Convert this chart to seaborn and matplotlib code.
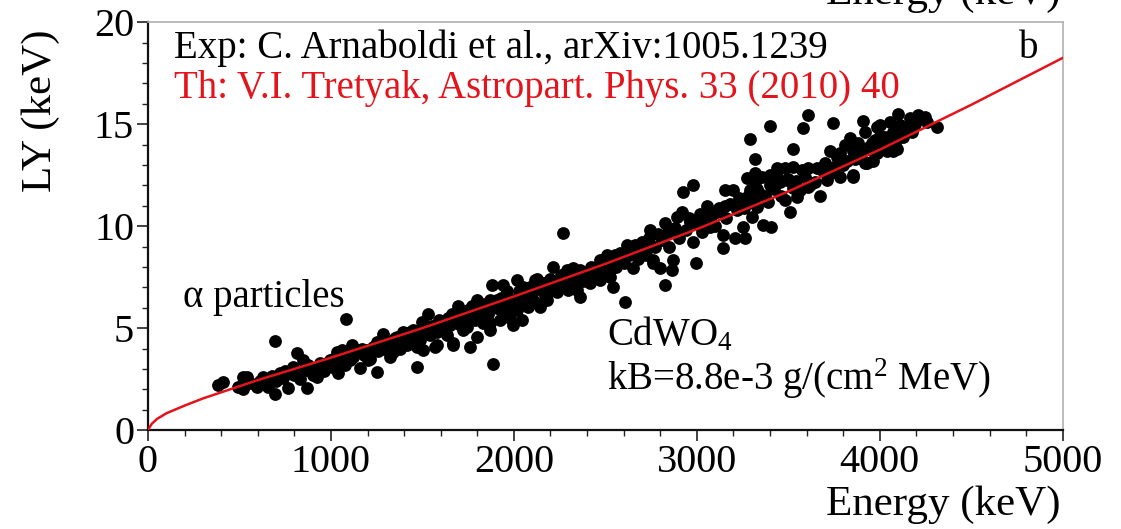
import matplotlib
matplotlib.use("Agg")
import matplotlib.pyplot as plt
from matplotlib.ticker import MultipleLocator
import seaborn as sns
import pandas as pd

# Measured alpha events in CdWO4: energy (keV) and light yield (keV)
energy = [
    383, 410, 492, 519, 541, 519, 596, 628, 656, 694, 694, 678, 721, 765, 738,
    792, 814, 831, 847, 869, 874, 902, 923, 951, 978, 1005, 1038, 1033, 1060,
    1082, 1076, 1115, 1142, 1158, 1202, 1251, 1230, 1284, 1306, 1339, 1377,
    1404, 1432, 1470, 1470, 1497, 1530, 1541, 1568,
    1393, 1448, 1033, 1197, 1268, 1339, 1415, 1486, 1541, 1579, 1634, 1667,
    1721, 1760, 1798, 1650, 1689, 1743, 1612, 1215, 1322, 1104, 995, 1503,
    1361, 1694, 1798, 1776,
    1885, 1579, 1667, 1798, 1743, 1880, 1940, 2016, 1869, 1923, 1869, 1978,
    2044, 2033, 2071, 2115, 2142, 2180, 2213, 2235, 2290, 2322, 2361, 2361,
    2295, 2415, 2470, 2508, 2541, 2563, 2607, 2617, 2650, 2689, 2727, 2760,
    2798, 2825, 2825, 2863, 2891, 2923, 2978, 2978, 2995, 2268,
    2126, 2552, 1776, 1852, 1907, 1940, 1978, 2016, 1995, 2077, 2126, 2180,
    2251, 2344, 2470, 2525, 2454, 2197, 2087, 1831, 2049,
    2552, 2661, 2705, 2743, 2760, 2869, 2918, 2962, 3016, 3055, 3071, 3109,
    3142, 3142, 3153, 3153, 3197, 3208, 3251, 3262, 3273, 3290, 3317, 3300,
    3399, 3607, 3579, 3743, 3907, 3290, 3525, 3836, 3918, 3984, 3880, 3956,
    3727, 3765, 3852, 3929, 3984, 3820, 3863, 3798, 3727, 3852, 3782, 3672,
    3710, 3656, 3607, 3574, 3525, 3481, 3437, 3399, 3355, 3317, 3344, 3399,
    3454, 3492, 3525, 3563, 3607, 3645, 3481, 3546, 3508, 3361, 3404, 3328,
    3290, 3317, 3388, 4093, 4098, 4208, 4246, 4311,
    4164, 4000, 4055, 4109, 4148, 4071, 4175, 4027, 3973, 4126, 4082, 4016,
    3962, 3907, 4071, 4038, 3918, 3962, 3891, 4235, 3852,
    1100, 1120, 1170, 1180, 1250, 1260, 1290, 1320, 1350, 1380, 1420, 1450,
    1480, 1520, 1550, 1590, 1600, 1620, 1640, 1660, 1700, 1710, 1730, 1750,
    1770, 1790, 1810, 1820, 1840, 1860, 1870, 1890, 1910, 1930, 1950, 1960,
    1990, 2000, 2030, 2060, 2090, 2100, 2130, 2160, 2170, 2200, 2210, 2240,
    2260, 2280, 2310, 2330, 2350, 2380, 2400, 2420, 2440, 2460, 2490, 2510,
    2530, 2560, 2580, 2600, 2630, 2660, 2680, 2700, 2720, 2740, 2770, 2790,
    2810, 2840, 2850, 2880, 2900, 2940, 2960, 3000, 3030, 3040, 3080, 3100,
    3120, 3160, 3180, 3220, 3230, 3260, 3280, 3310, 3330, 3370, 3420, 3440,
    3460, 3500, 3540, 3590, 3620, 3690, 3700, 3750, 3780, 3810, 3870, 3940,
    4000, 4050, 4120, 4190, 4260,
    560, 610, 700, 750, 800, 850, 890, 940, 960, 1010, 1050, 1080,
]
light_yield = [
    2.20, 2.35, 2.10, 2.60, 2.60, 2.00, 2.10, 2.60, 2.10, 1.76, 4.36, 2.65, 2.80, 2.06, 2.55,
    3.09, 3.78, 2.50, 3.43, 2.06, 3.19, 2.70, 2.60, 3.09, 3.28, 3.09, 2.80, 3.82, 3.92,
    5.44, 3.19, 4.17, 3.92, 3.04, 3.43, 2.84, 4.07, 4.70, 4.07, 3.82, 4.26,
    4.60, 4.80, 4.07, 3.09, 5.30, 5.69, 4.75, 4.07,
    4.80, 4.90, 3.04, 3.92, 4.26, 4.07, 4.17, 4.41, 4.66, 4.17, 4.66, 4.17,
    4.90, 4.07, 4.56, 5.15, 5.54, 5.30, 5.30, 3.50, 3.58, 3.43, 3.43, 3.92,
    4.56, 6.08, 6.37, 5.64,
    3.24, 4.80, 4.26, 6.27, 5.05, 7.11, 7.11, 7.35, 5.25, 5.39, 4.90, 5.78,
    5.39, 6.23, 6.52, 7.35, 6.03, 6.72, 7.99, 6.76, 7.84, 7.94, 7.84, 6.52,
    6.86, 7.20, 8.33, 8.58, 7.01, 8.33, 6.27, 9.07, 7.94, 8.97, 9.07, 8.33,
    7.94, 7.11, 10.15, 7.84, 10.44, 11.67, 12.00, 9.20, 8.19, 9.66,
    7.40, 8.58, 5.88, 6.03, 6.37, 5.64, 5.49, 5.88, 5.15, 6.03, 6.23, 6.37,
    7.01, 6.86, 7.35, 7.50, 7.84, 7.11, 6.62, 5.25, 7.01,
    8.33, 9.07, 8.82, 9.80, 8.19, 8.33, 10.70, 10.20, 10.60, 11.00, 9.95, 10.70,
    9.56, 8.92, 11.00, 11.76, 11.76, 9.41, 9.95, 9.41, 12.35, 11.17, 13.30, 10.44,
    14.90, 15.44, 14.80, 15.05, 15.15, 14.26, 13.80, 14.30, 14.60, 14.85, 14.10, 14.10,
    13.70, 13.40, 13.70, 13.10, 13.60, 13.20, 13.30, 13.00, 12.60, 12.50, 12.40, 11.50,
    12.25, 12.84, 12.84, 12.74, 12.90, 12.84, 12.84, 12.50, 12.40, 12.15, 11.60, 12.00,
    12.15, 12.25, 11.86, 11.76, 11.90, 12.15, 11.27, 11.42, 10.70, 10.05, 9.95, 10.93,
    11.76, 12.60, 11.17, 13.80, 15.50, 15.44, 15.34, 14.85,
    15.30, 14.95, 15.10, 14.95, 14.80, 14.60, 14.60, 14.36, 14.20, 14.36, 14.10, 14.05,
    13.70, 13.70, 13.70, 13.70, 13.10, 13.20, 13.35, 15.30, 12.40,
    3.80, 3.60, 4.00, 3.70, 4.30, 3.90, 4.00, 4.30, 4.50, 4.00, 4.40, 4.60,
    4.80, 5.00, 5.10, 5.40, 5.00, 4.90, 5.50, 5.70, 5.20, 5.80, 5.60, 5.90,
    6.10, 5.40, 5.80, 6.00, 6.20, 5.70, 6.40, 6.10, 6.00, 6.50, 6.20, 6.80,
    6.40, 6.10, 6.80, 6.30, 7.00, 6.50, 6.90, 7.20, 6.60, 7.40, 6.90, 7.30,
    7.60, 7.10, 7.40, 7.00, 7.60, 7.30, 7.70, 8.00, 7.50, 8.00, 7.70, 8.10,
    7.90, 8.00, 8.70, 8.20, 8.60, 8.70, 8.40, 9.20, 8.60, 9.40, 9.00, 9.60,
    9.30, 9.70, 9.00, 9.90, 9.40, 9.80, 10.40, 10.10, 9.70, 10.30, 10.50, 10.00,
    10.90, 10.40, 11.10, 10.80, 11.40, 10.90, 11.50, 11.30, 11.80, 11.50, 11.80, 12.40,
    11.50, 12.30, 12.20, 12.40, 12.00, 12.70, 13.10, 12.90, 13.60, 14.00, 13.90, 13.90,
    14.40, 14.20, 14.60, 15.00, 15.10,
    2.30, 2.40, 2.40, 2.90, 2.70, 2.90, 3.00, 3.30, 2.90, 3.50, 3.40, 3.60,
]

# Calculated light yield curve (Birks quenching, kB = 8.8e-3 g/(cm^2 MeV))
curve_energy = [0, 20, 50, 100, 200, 300, 400, 600, 800, 1000, 1500, 2000,
                2500, 3000, 3500, 4000, 4500, 5000]
curve_ly = [0.0, 0.30, 0.55, 0.82, 1.20, 1.55, 1.85, 2.45, 3.00, 3.55, 5.00,
            6.55, 8.15, 9.85, 11.70, 13.75, 15.95, 18.25]

x_ticks = [0, 1000, 2000, 3000, 4000, 5000]
y_ticks = [0, 5, 10, 15, 20]

points = pd.DataFrame({"Energy": energy, "LY": light_yield})
curve = pd.DataFrame({"Energy": curve_energy, "LY": curve_ly})

sns.set_style("white")
plt.rcParams["font.family"] = ["Liberation Serif", "DejaVu Serif"]
plt.rcParams["mathtext.fontset"] = "custom"
plt.rcParams["mathtext.rm"] = "Liberation Serif"
plt.rcParams["mathtext.it"] = "Liberation Serif:italic"
plt.rcParams["text.color"] = "black"
plt.rcParams["xtick.labelcolor"] = "black"
plt.rcParams["ytick.labelcolor"] = "black"

fig = plt.figure(figsize=(11.21, 5.29), dpi=100)
ax = fig.add_axes([0.132, 0.187, 0.816, 0.771])

sns.scatterplot(data=points, x="Energy", y="LY", ax=ax, color="black",
                s=85, linewidth=0, zorder=2, legend=False)
sns.lineplot(data=curve, x="Energy", y="LY", ax=ax, color="#e3141b",
             linewidth=1.8, zorder=3, legend=False)

ax.set_xlim(0, 5000)
ax.set_ylim(0, 20)
ax.set_xticks(x_ticks)
ax.set_yticks(y_ticks)
ax.xaxis.set_minor_locator(MultipleLocator(200))
ax.yaxis.set_minor_locator(MultipleLocator(1))
ax.tick_params(which="major", direction="out", length=8, width=1.2,
               labelsize=29, pad=2, bottom=True, left=True, color="#222222",
               labelcolor="black")
ax.tick_params(which="minor", direction="out", length=4, width=1.0,
               bottom=True, left=True, color="#222222")
ax.set_xlabel("")
ax.set_ylabel("")

for side in ("left", "bottom"):
    ax.spines[side].set_color("#111111")
    ax.spines[side].set_linewidth(1.6)
for side in ("top", "right"):
    ax.spines[side].set_color("#b0b0b0")
    ax.spines[side].set_linewidth(1.2)

ax.text(0.028, 0.936, "Exp: C. Arnaboldi et al., arXiv:1005.1239",
        transform=ax.transAxes, fontsize=28, color="black", va="center")
ax.text(0.028, 0.838, "Th: V.I. Tretyak, Astropart. Phys. 33 (2010) 40",
        transform=ax.transAxes, fontsize=28, color="#e3141b", va="center")
ax.text(0.952, 0.936, "b", transform=ax.transAxes, fontsize=28,
        color="black", va="center")
ax.text(0.038, 0.326, "\u03b1 particles", transform=ax.transAxes,
        fontsize=28, color="black", va="center")
ax.text(0.502, 0.233, r"CdWO$_4$", transform=ax.transAxes, fontsize=28,
        color="black", va="center")
ax.text(0.502, 0.127, r"kB=8.8e-3 g/(cm$^2$ MeV)", transform=ax.transAxes,
        fontsize=28, color="black", va="center")

fig.text(0.946, 0.045, "Energy (keV)", fontsize=31, ha="right",
         va="center", color="black")
fig.text(0.036, 0.945, "LY (keV)", fontsize=31, rotation=90, ha="center",
         va="top", color="black")
fig.text(0.946, 1.012, "Energy (keV)", fontsize=31, ha="right",
         va="center", color="black")

fig.savefig("out.png", dpi=100)
